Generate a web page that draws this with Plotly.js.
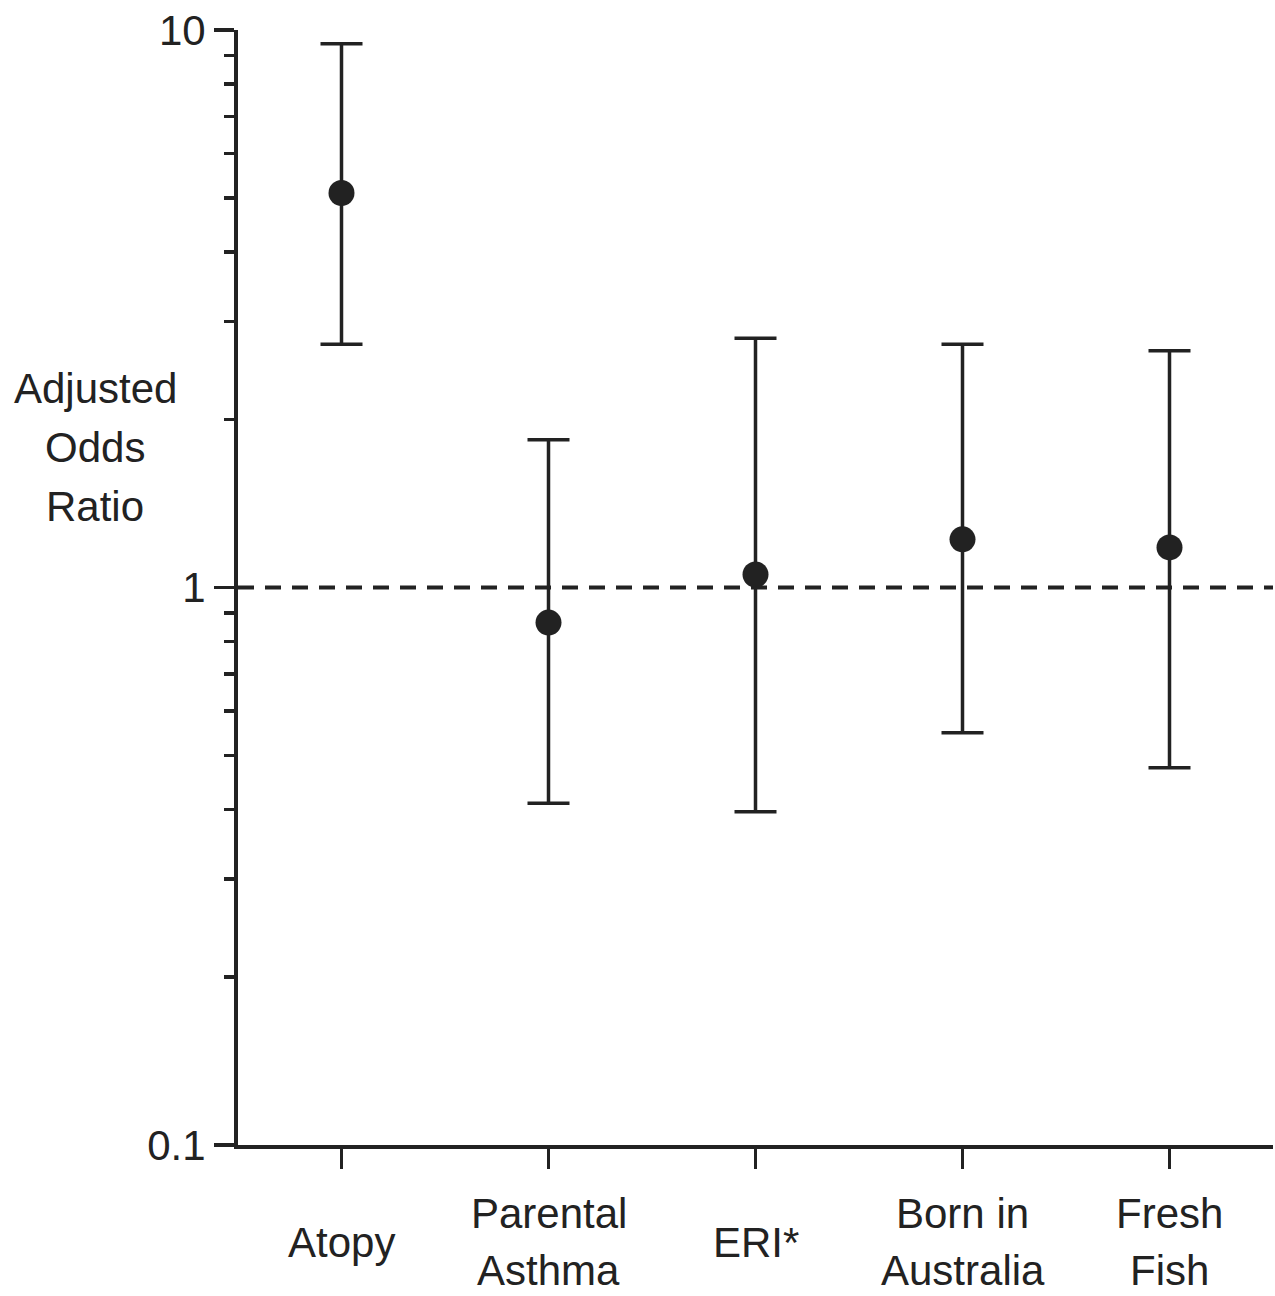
<!DOCTYPE html>
<html>
<head>
<meta charset="utf-8">
<script src="https://cdn.plot.ly/plotly-3.0.1.min.js"></script>
<style>html,body{margin:0;padding:0;background:#fff;}#chart{width:1275px;height:1296px;}</style>
</head>
<body>
<div id="chart"></div>
<script>
// Data
const categories = ['Atopy', 'Parental Asthma', 'ERI*', 'Born in Australia', 'Fresh Fish'];
const categoryLabels = ['Atopy', 'Parental<br>Asthma', 'ERI*', 'Born in<br>Australia', 'Fresh<br>Fish'];
const oddsRatio = [5.1, 0.865, 1.055, 1.22, 1.18];
const ciLower = [2.73, 0.41, 0.396, 0.549, 0.475];
const ciUpper = [9.45, 1.84, 2.80, 2.73, 2.66];
const yMajorTicks = [0.1, 1, 10];
const yMajorLabels = ['0.1', '1', '10'];
const yMinorTicks = [0.2, 0.3, 0.4, 0.5, 0.6, 0.7, 0.8, 0.9, 2, 3, 4, 5, 6, 7, 8, 9];
const yAxisTitle = 'Adjusted<br>Odds<br>Ratio';
const referenceValue = 1;

const ink = '#222222';
const fontFamily = 'Liberation Sans, Arial, Helvetica, sans-serif';

const trace = {
  type: 'scatter',
  mode: 'markers',
  x: categories,
  y: oddsRatio,
  marker: {color: ink, size: 26},
  error_y: {
    type: 'data',
    symmetric: false,
    array: oddsRatio.map((v, i) => ciUpper[i] - v),
    arrayminus: oddsRatio.map((v, i) => v - ciLower[i]),
    color: ink,
    thickness: 3.5,
    width: 21
  },
  cliponaxis: false,
  hoverinfo: 'skip'
};

// multi-line text placed line by line so the line spacing matches
function stackedText(text, base, gap) {
  const lines = text.split('<br>');
  const n = lines.length;
  return lines.map((ln, k) => Object.assign({}, base, {
    text: ln,
    yshift: ((n - 1) / 2 - k) * gap
  }));
}

let annotations = [];
categoryLabels.forEach((lab, i) => {
  annotations = annotations.concat(stackedText(lab, {
    x: categories[i], xref: 'x',
    y: -0.087, yref: 'paper',
    showarrow: false,
    xanchor: 'center', yanchor: 'middle', align: 'center',
    font: {family: fontFamily, size: 42, color: ink}
  }, 57));
});
annotations = annotations.concat(stackedText(yAxisTitle, {
  x: -0.138, xref: 'paper', y: 0.626, yref: 'paper',
  showarrow: false,
  xanchor: 'center', yanchor: 'middle', align: 'center',
  font: {family: fontFamily, size: 42, color: ink}
}, 59));

const layout = {
  width: 1275, height: 1296,
  margin: {l: 238, r: 2, t: 30, b: 151},
  paper_bgcolor: '#ffffff', plot_bgcolor: '#ffffff',
  showlegend: false,
  font: {family: fontFamily, size: 42, color: ink},
  xaxis: {
    type: 'category',
    range: [-0.5, 4.5],
    showline: true, linecolor: ink, linewidth: 4,
    ticks: 'outside', ticklen: 20, tickwidth: 3.5, tickcolor: ink,
    showticklabels: false, showgrid: false, zeroline: false,
    fixedrange: true
  },
  yaxis: {
    type: 'log',
    range: [-1, 1],
    showline: true, linecolor: ink, linewidth: 4,
    ticks: 'outside', ticklen: 20, tickwidth: 3.5, tickcolor: ink,
    tickmode: 'array', tickvals: yMajorTicks, ticktext: yMajorLabels,
    tickfont: {family: fontFamily, size: 42, color: ink},
    minor: {tickmode: 'array', tickvals: yMinorTicks, ticks: 'outside', ticklen: 10, tickwidth: 3.5, tickcolor: ink, showgrid: false},
    showgrid: false, zeroline: false,
    fixedrange: true
  },
  shapes: [{
    type: 'line', xref: 'paper', x0: 0, x1: 1,
    yref: 'y', y0: referenceValue, y1: referenceValue,
    line: {color: ink, width: 4, dash: '16px,11px'}
  }],
  annotations: annotations
};

Plotly.newPlot('chart', [trace], layout, {displayModeBar: false, staticPlot: true});
</script>
</body>
</html>
